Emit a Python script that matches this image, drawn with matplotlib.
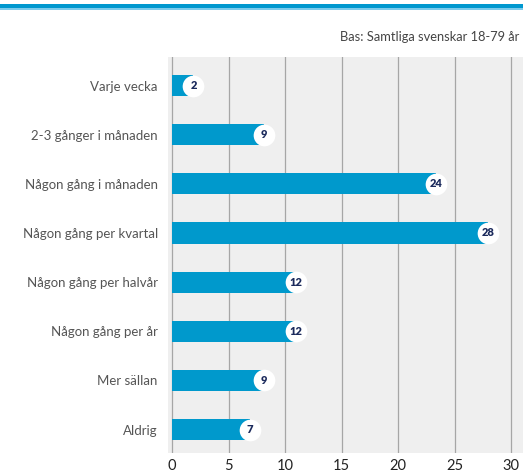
import matplotlib
matplotlib.use("Agg")
import matplotlib.pyplot as plt
from matplotlib.patches import Rectangle

categories = ["Varje vecka", "2-3 gånger i månaden", "Någon gång i månaden",
              "Någon gång per kvartal", "Någon gång per halvår", "Någon gång per år",
              "Mer sällan", "Aldrig"]
values = [1.9, 8.1, 23.4, 28.0, 11.0, 11.0, 8.1, 6.9]
labels = ["2", "9", "24", "28", "12", "12", "9", "7"]
xticks = [0, 5, 10, 15, 20, 25, 30]
subtitle = "Bas: Samtliga svenskar 18-79 år"

plt.rcParams['font.family'] = ['Lato', 'DejaVu Sans']

W, H = 523, 474
fig = plt.figure(figsize=(W / 100, H / 100), dpi=100)
fig.patch.set_facecolor("white")

# top band
fig.patches.append(Rectangle((0, 1 - 8.5 / H), 1, 4.5 / H, transform=fig.transFigure,
                             facecolor="#0098cf", edgecolor="none"))
fig.patches.append(Rectangle((0, 1 - 9.5 / H), 1, 1.2 / H, transform=fig.transFigure,
                             facecolor="#7ccbec", edgecolor="none"))

left, right, top, bottom = 167.5, 523, 57, 453
ax = fig.add_axes([left / W, 1 - bottom / H, (right - left) / W, (bottom - top) / H])
ax.set_facecolor("#efefef")
for s in ax.spines.values():
    s.set_visible(False)

y = list(range(len(categories)))
ax.barh(y, values, height=0.43, color="#0099cc", zorder=3)
ax.plot(values, y, 'o', markersize=15.6, markerfacecolor="white",
        markeredgecolor="none", zorder=4)
for v, yy, lab in zip(values, y, labels):
    ax.text(v, yy, lab, ha="center", va="center", fontsize=8, fontweight="heavy",
            color="#1b2a5c", zorder=5)

ax.set_xlim(-0.4, 31.06)
ax.set_ylim(7.478, -0.58)
ax.set_xticks(xticks)
ax.set_xticklabels([str(t) for t in xticks], fontsize=10.5, color="#222222")
ax.set_yticks(y)
ax.set_yticklabels(categories, fontsize=9.5, color="#555555")
ax.tick_params(axis="both", length=0)
ax.tick_params(axis="x", pad=4)
ax.tick_params(axis="y", pad=7)
ax.grid(axis="x", color="#a6a6a6", linewidth=0.9, zorder=1)
ax.set_axisbelow(True)

fig.text(519 / W, 1 - 37 / H, subtitle, ha="right", va="center", fontsize=9.3,
         color="#444444")

fig.savefig("out.png", dpi=100)
